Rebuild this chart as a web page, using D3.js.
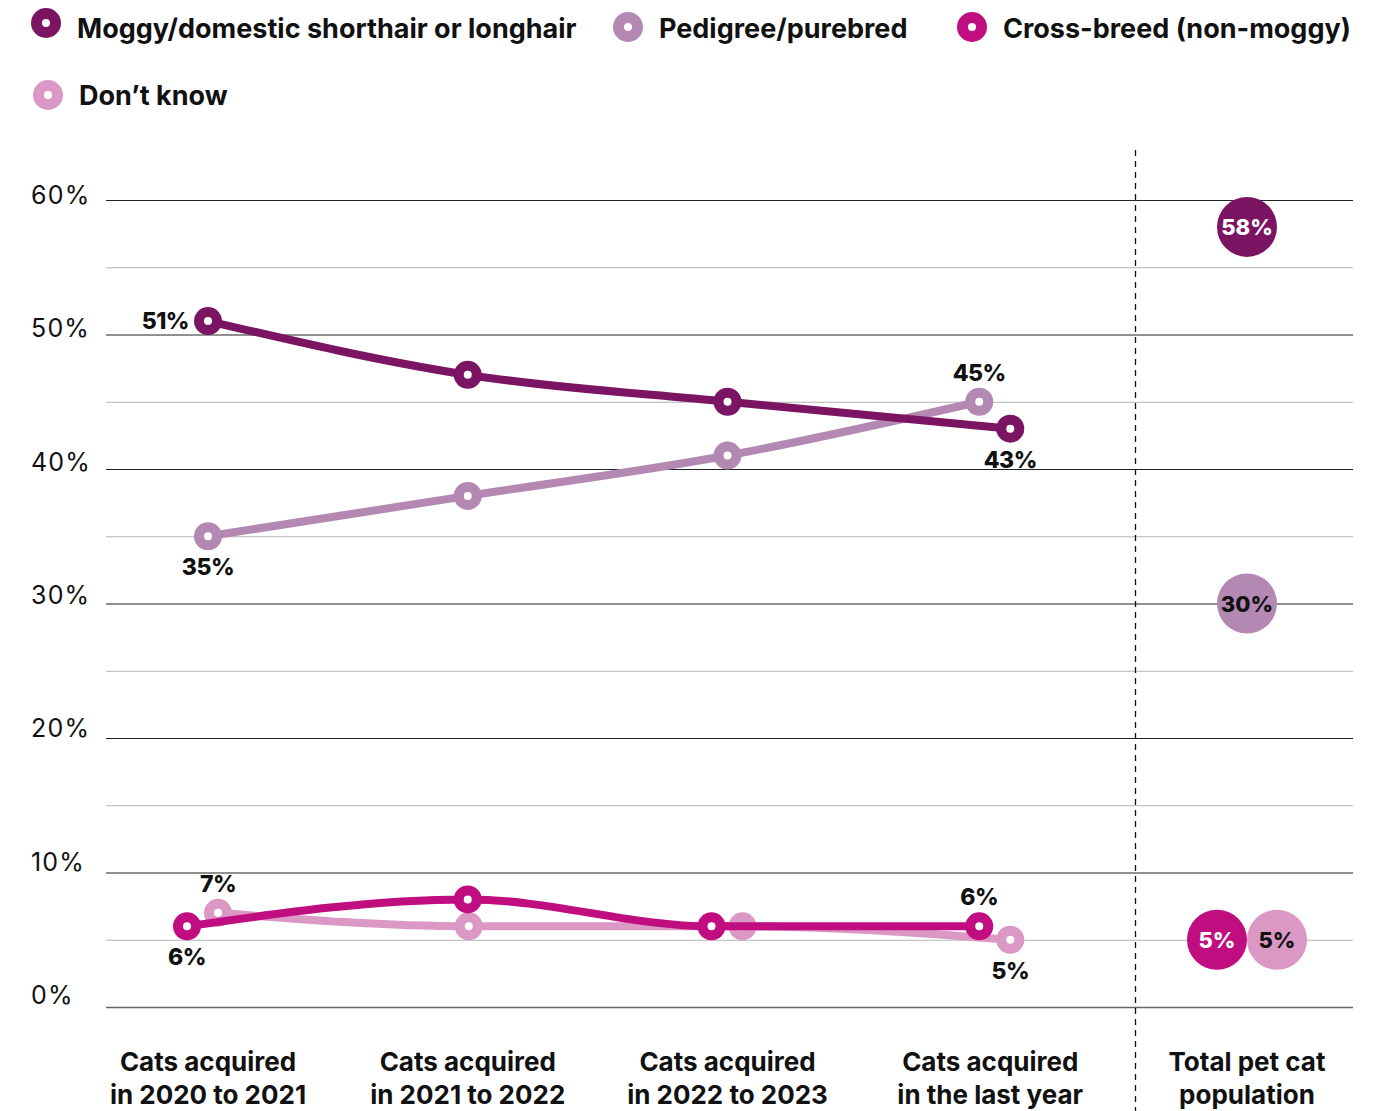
<!DOCTYPE html>
<html>
<head>
<meta charset="utf-8">
<script src="https://cdn.jsdelivr.net/npm/d3@7"></script>
<style>
  html, body { margin: 0; padding: 0; background: #fff; }
  svg { display: block; font-family: Inter, "Noto Sans", sans-serif; }
</style>
</head>
<body>
<svg id="chart" width="1388" height="1111"></svg>
<script>
// Survey periods along the x axis, plus the overall population column
const periods = ["Cats acquired|in 2020 to 2021", "Cats acquired|in 2021 to 2022",
                 "Cats acquired|in 2022 to 2023", "Cats acquired|in the last year"];
const totalLabel = "Total pet cat|population";

const seriesNames = ["Moggy/domestic shorthair or longhair", "Pedigree/purebred",
                     "Cross-breed (non-moggy)", "Don\u2019t know"];
const colors = ["#7a1463", "#b388b2", "#c00d80", "#dc98c5"];

// Share of cats by type (%) for each period
const moggy     = [51, 47, 45, 43];
const pedigree  = [35, 38, 41, 45];
const crossbred = [6, 8, 6, 6];
const dontKnow  = [7, 6, 6, 5];

// Share of the whole pet cat population (%)
const totalPopulation = [58, 30, 5, 5];

const yTicks = [0, 10, 20, 30, 40, 50, 60];

// ---- layout ----
const svg = d3.select("#chart");
const x = d3.scalePoint().domain(d3.range(5)).range([208, 1247]);
const y = d3.scaleLinear().domain([0, 60]).range([1007, 200]);

// small horizontal nudges (px) so overlapping markers stay visible
const nudge = [
  [0, 0, 0, 23],
  [0, 0, 0, -8],
  [-21, 0, -16, -8],
  [10, 1, 15, 23]
];
// where the first/last value labels sit relative to their markers
const labelSpec = [
  { idx: [0, 3], pos: ["left", "below"] },
  { idx: [0, 3], pos: ["below", "above"] },
  { idx: [0, 3], pos: ["below", "above"] },
  { idx: [0, 3], pos: ["above", "below"] }
];

// gridlines every 5%
const gridVals = d3.range(0, 61, 5);
svg.append("g").selectAll("line").data(gridVals).join("line")
  .attr("x1", 106).attr("x2", 1353)
  .attr("y1", d => y(d) + 0.5).attr("y2", d => y(d) + 0.5)
  .attr("stroke", d => d % 10 === 0 ? (d === 0 ? "#666" : "#222") : "#b5b5b5")
  .attr("stroke-width", d => d === 0 ? 1.5 : 1);

// y axis labels
svg.append("g").selectAll("text").data(yTicks).join("text")
  .attr("x", 31).attr("y", d => y(d) - 3 + (d / 60) * 7)
  .attr("font-size", 25).attr("letter-spacing", 1.2)
  .attr("fill", "#111").attr("font-weight", 400)
  .text(d => d + "%");

// divider between period columns and the total column
svg.append("line")
  .attr("x1", 1135.5).attr("x2", 1135.5).attr("y1", 150).attr("y2", 1111)
  .attr("stroke", "#111").attr("stroke-width", 1.3).attr("stroke-dasharray", "6,5");

// x axis labels
const xLabels = periods.concat([totalLabel]);
const xl = svg.append("g").selectAll("text").data(xLabels).join("text")
  .attr("x", (d, i) => x(i) + (i === 3 ? 3 : 0))
  .attr("y", 1071).attr("text-anchor", "middle")
  .attr("font-size", 26).attr("font-weight", 700).attr("fill", "#111");
xl.each(function(d) {
  const parts = d.split("|");
  d3.select(this).selectAll("tspan").data(parts).join("tspan")
    .attr("x", d3.select(this).attr("x"))
    .attr("dy", (p, j) => j === 0 ? 0 : 33)
    .text(p => p);
});

// lines and markers
const allSeries = [moggy, pedigree, crossbred, dontKnow];
const line = d3.line()
  .x(d => d.x).y(d => d.y)
  .curve(d3.curveMonotoneX);

const drawOrder = [1, 0, 3, 2];
drawOrder.forEach(s => {
  const pts = allSeries[s].map((v, i) => ({ x: x(i) + nudge[s][i], y: y(v), v }));
  const g = svg.append("g");
  g.append("path").datum(pts).attr("d", line)
    .attr("fill", "none").attr("stroke", colors[s]).attr("stroke-width", 8)
    .attr("stroke-linecap", "round");
  g.selectAll("circle.m").data(pts).join("circle").attr("class", "m")
    .attr("cx", d => d.x).attr("cy", d => d.y).attr("r", 14).attr("fill", colors[s]);
  g.selectAll("circle.c").data(pts).join("circle").attr("class", "c")
    .attr("cx", d => d.x).attr("cy", d => d.y).attr("r", 4).attr("fill", "#fff");
});

// value labels at first and last points
allSeries.forEach((vals, s) => {
  labelSpec[s].idx.forEach((i, k) => {
    const px = x(i) + nudge[s][i], py = y(vals[i]);
    const pos = labelSpec[s].pos[k];
    let tx = px, ty = py, anchor = "middle";
    if (pos === "left") { tx = px - 19; ty = py + 8; anchor = "end"; }
    if (pos === "above") { ty = py - 21; }
    if (pos === "below") { ty = py + 39; }
    svg.append("text").attr("x", tx).attr("y", ty).attr("text-anchor", anchor)
      .attr("font-size", 23).attr("font-weight", 800).attr("fill", "#111")
      .attr("letter-spacing", -0.5)
      .text(vals[i] + "%");
  });
});

// total population bubbles
const bubbleNudge = [0, 0, -30, 30];
const textFill = ["#fff", "#111", "#fff", "#111"];
totalPopulation.forEach((v, s) => {
  const cx = x(4) + bubbleNudge[s], cy = y(v);
  svg.append("circle").attr("cx", cx).attr("cy", cy).attr("r", 30).attr("fill", colors[s]);
  svg.append("text").attr("x", cx).attr("y", cy + 8).attr("text-anchor", "middle")
    .attr("font-size", 22).attr("font-weight", 800).attr("fill", textFill[s])
    .text(v + "%");
});

// legend
const legendPos = [[46, 23, 38], [628, 27, 38], [972, 27, 38], [48, 95, 105]];
seriesNames.forEach((name, s) => {
  const [lx, ly, tb] = legendPos[s];
  const g = svg.append("g");
  g.append("circle").attr("cx", lx).attr("cy", ly).attr("r", 15).attr("fill", colors[s]);
  g.append("circle").attr("cx", lx).attr("cy", ly).attr("r", 4).attr("fill", "#fff");
  g.append("text").attr("x", lx + 31).attr("y", tb)
    .attr("font-size", 27).attr("font-weight", 700).attr("fill", "#111")
    .text(name);
});
</script>
</body>
</html>
